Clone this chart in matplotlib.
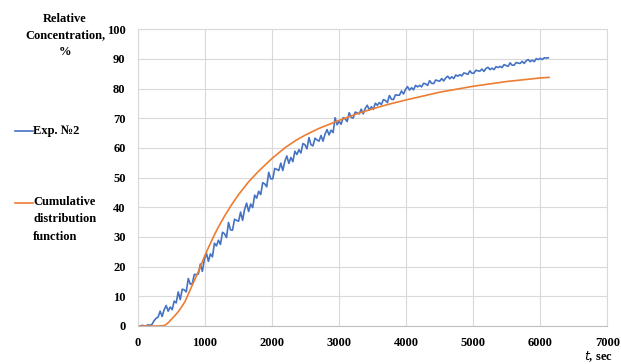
import numpy as np
import matplotlib.pyplot as plt

# experiment No.2, sampled every 30 s
t_exp = np.arange(0, 6121, 30)
c_exp = [
    0.1, 0.0, 0.2, 0.1, 0.0, 0.4, 0.2, 0.6, 1.8, 2.6,
    3.0, 5.0, 3.2, 5.5, 6.9, 5.0, 6.4, 5.5, 8.4, 7.8,
    11.5, 8.9, 12.4, 12.2, 11.5, 16.0, 14.1, 14.3, 17.4, 17.3,
    17.5, 20.9, 18.4, 22.4, 24.6, 21.8, 24.3, 23.3, 27.9, 27.0,
    28.9, 27.5, 31.6, 31.1, 29.8, 34.9, 32.4, 32.3, 36.0, 35.6,
    35.3, 38.4, 35.6, 39.3, 41.4, 38.6, 41.1, 39.9, 44.1, 43.1,
    45.4, 44.3, 48.3, 47.9, 46.9, 51.8, 49.6, 49.6, 53.1, 52.8,
    52.4, 54.9, 52.4, 55.5, 57.3, 54.8, 56.8, 55.4, 58.9, 57.8,
    59.4, 58.3, 61.5, 61.1, 59.7, 63.5, 61.1, 60.7, 63.3, 62.7,
    62.3, 64.2, 62.3, 64.7, 66.2, 64.4, 66.0, 65.2, 70.2, 67.8,
    69.0, 68.0, 70.2, 69.8, 68.9, 71.9, 70.3, 70.1, 72.1, 71.8,
    71.5, 73.1, 71.5, 73.4, 74.4, 72.8, 73.9, 73.0, 75.1, 74.4,
    75.3, 74.6, 76.3, 76.0, 75.3, 77.7, 76.4, 76.3, 77.9, 77.8,
    77.8, 79.2, 78.2, 79.7, 80.7, 79.5, 80.3, 79.6, 81.1, 80.6,
    81.1, 80.6, 81.8, 81.6, 81.1, 82.7, 81.8, 81.7, 82.9, 82.7,
    82.5, 83.4, 82.6, 83.6, 84.2, 83.3, 84.0, 83.4, 84.6, 84.2,
    84.7, 84.3, 85.3, 85.1, 84.8, 86.0, 85.2, 85.2, 86.2, 86.0,
    85.9, 86.6, 85.8, 86.8, 87.2, 86.4, 86.9, 86.4, 87.4, 87.1,
    87.5, 87.1, 88.1, 87.8, 87.5, 88.7, 87.9, 87.9, 88.8, 88.6,
    88.5, 89.2, 88.5, 89.4, 89.8, 89.1, 89.6, 89.1, 90.1, 89.8,
    90.2, 89.8, 90.4, 90.3, 90.4,
]

# cumulative distribution function
t_cdf = [0, 300, 380, 420, 460, 500, 550, 600, 650, 700, 750, 800, 850, 900,
         950, 1000, 1050, 1100, 1150, 1200, 1300, 1400, 1500, 1650, 1800,
         2000, 2200, 2350, 2500, 2700, 3000, 3250, 3500, 3750, 4000, 4500,
         5000, 5500, 6000, 6130]
c_cdf = [0, 0, 0.1, 0.5, 1.3, 2.3, 3.5, 4.8, 6.4, 8.2, 10.7, 13.3, 15.8, 18.3,
         21.1, 23.9, 26.4, 28.8, 31.2, 33.4, 37.4, 41.0, 44.3, 48.6, 52.2,
         56.5, 60.2, 62.5, 64.4, 66.6, 69.3, 71.4, 73.2, 74.8, 76.2, 78.8,
         80.8, 82.4, 83.6, 83.8]

x_ticks = [0, 1000, 2000, 3000, 4000, 5000, 6000, 7000]
y_ticks = [0, 10, 20, 30, 40, 50, 60, 70, 80, 90, 100]

blue = '#4472C4'
orange = '#ED7D31'
grid_col = '#D9D9D9'

plt.rcParams['font.family'] = ['Liberation Serif', 'DejaVu Serif']

fig = plt.figure(figsize=(6.21, 3.64), dpi=100)
ax = fig.add_axes([138 / 621, 38 / 364, 469.3 / 621, 296.7 / 364])

ax.plot(t_exp, c_exp, color=blue, lw=1.2)
ax.plot(t_cdf, c_cdf, color=orange, lw=1.2)

ax.set_xlim(0, 7000)
ax.set_ylim(0, 100)
ax.set_xticks(x_ticks)
ax.set_yticks(y_ticks)
ax.grid(True, color=grid_col, lw=0.8)
ax.set_axisbelow(True)
for s in ax.spines.values():
    s.set_color(grid_col)
    s.set_linewidth(0.8)
ax.spines['bottom'].set_color('#BFBFBF')
ax.tick_params(length=0, labelsize=9)
ax.tick_params(axis='y', pad=9)
ax.tick_params(axis='x', pad=8)
for lab in ax.get_xticklabels() + ax.get_yticklabels():
    lab.set_fontweight('bold')

# axis titles
fig.text(65 / 621, 1 - 13 / 364, 'Relative\nConcentration,\n%', ha='center',
         va='top', fontsize=9, fontweight='bold', linespacing=1.5)
fig.text(613 / 621, 1 - 357 / 364, r'$\mathbf{\mathit{t}}$, sec', ha='right',
         va='center', fontsize=9, fontweight='bold')

# legend drawn at the left of the plot
fig.add_artist(plt.Line2D([15 / 621, 33 / 621], [1 - 131 / 364] * 2,
                          color=blue, lw=1.2))
fig.text(33 / 621, 1 - 131 / 364, 'Exp. №2', ha='left', va='center',
         fontsize=9, fontweight='bold')
fig.add_artist(plt.Line2D([15 / 621, 33 / 621], [1 - 203 / 364] * 2,
                          color=orange, lw=1.2))
fig.text(33 / 621, 1 - 196 / 364, 'Cumulative\ndistribution\nfunction',
         ha='left', va='top', fontsize=9, fontweight='bold', linespacing=1.6)

fig.savefig('out.png', dpi=100)
